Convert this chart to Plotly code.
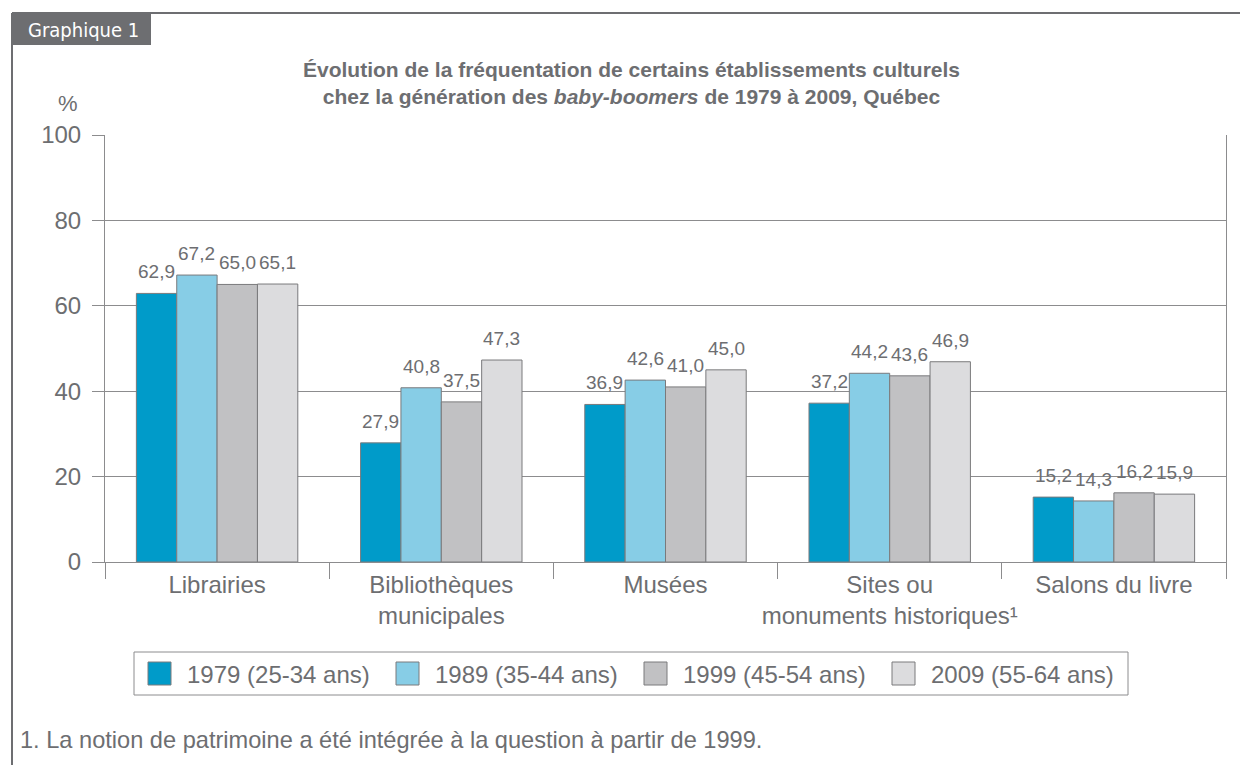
import plotly.graph_objects as go

categories = ["Librairies", "Bibliothèques<br>municipales", "Musées",
              "Sites ou<br>monuments historiques¹", "Salons du livre"]
series_names = ["1979 (25-34 ans)", "1989 (35-44 ans)", "1999 (45-54 ans)", "2009 (55-64 ans)"]
v1979 = [62.9, 27.9, 36.9, 37.2, 15.2]
v1989 = [67.2, 40.8, 42.6, 44.2, 14.3]
v1999 = [65.0, 37.5, 41.0, 43.6, 16.2]
v2009 = [65.1, 47.3, 45.0, 46.9, 15.9]
colors = ["#009bc9", "#87cde6", "#c1c1c3", "#dcdcde"]
y_ticks = [0, 20, 40, 60, 80, 100]

GREY = "#6d6e71"
LINE = "#8c8c8e"
FONT = "Liberation Sans, Arial, sans-serif"

# screen coordinates (page has an 8px body margin)
OFF = 8
SW, SH = 1248, 765
L, R, T, B = 105, 1226, 135, 562
W, H = SW - OFF, SH - OFF
BARGAP = 0.28
def px(x): return (x - L) / (R - L)
def py(y): return (B - y) / (B - T)

all_series = [v1979, v1989, v1999, v2009]
fig = go.Figure()
for name, vals, col in zip(series_names, all_series, colors):
    fig.add_trace(go.Bar(
        x=categories, y=vals, name=name,
        marker=dict(color=col, line=dict(color="#7a7a7c", width=1)),
    ))

# value labels above bars, placed at data values through the axes
cat_px = (R - L) / len(categories)
bar_px = cat_px * (1 - BARGAP) / len(all_series)
for i, vals in enumerate(all_series):
    shift = (i - (len(all_series) - 1) / 2) * bar_px
    for c, v in zip(categories, vals):
        fig.add_annotation(x=c, y=v, xref="x", yref="y", xshift=shift, yshift=9,
                           xanchor="center", yanchor="bottom", showarrow=False,
                           text=f"{v:.1f}".replace(".", ","),
                           font=dict(family=FONT, size=19, color=GREY))

fig.update_layout(
    width=W, height=H, barmode="group", bargap=BARGAP, bargroupgap=0,
    margin=dict(l=L - OFF, r=SW - R, t=T - OFF, b=SH - B),
    plot_bgcolor="white", paper_bgcolor="white",
    font=dict(family=FONT, color=GREY),
    showlegend=False,
)
fig.update_yaxes(range=[0, 100], tickvals=y_ticks, showgrid=True, gridcolor=LINE,
                 gridwidth=1, showline=True, linecolor=LINE, linewidth=1, mirror=True,
                 ticks="outside", ticklen=12, tickcolor=LINE, ticklabelstandoff=6,
                 tickfont=dict(family=FONT, size=24, color=GREY), zeroline=False)
fig.update_xaxes(showline=True, linecolor=LINE, linewidth=1, ticks="outside",
                 tickson="boundaries", ticklen=16, tickcolor=LINE, tickangle=0,
                 ticklabelstandoff=1,
                 tickfont=dict(family=FONT, size=24, color=GREY))

# frame and tab
fig.add_shape(type="line", xref="paper", yref="paper", x0=px(12), x1=px(12), y0=py(13), y1=py(770),
              line=dict(color="#6d6e71", width=2))
fig.add_shape(type="line", xref="paper", yref="paper", x0=px(12), x1=px(1250), y0=py(13), y1=py(13),
              line=dict(color="#6d6e71", width=2))
fig.add_shape(type="rect", xref="paper", yref="paper", x0=px(12), x1=px(151), y0=py(13), y1=py(45),
              fillcolor="#6d6e71", line=dict(width=0))
fig.add_annotation(xref="paper", yref="paper", x=px(26), y=py(30), xanchor="left", yanchor="middle",
                   text="Graphique 1", showarrow=False,
                   font=dict(family="DejaVu Sans Condensed", size=20, color="white"))
fig.add_annotation(xref="paper", yref="paper", x=px(631), y=py(83), xanchor="center", yanchor="middle",
                   text="<b>Évolution de la fréquentation de certains établissements culturels<br>"
                        "chez la génération des <i>baby-boomers</i> de 1979 à 2009, Québec</b>",
                   showarrow=False, font=dict(family=FONT, size=21, color=GREY))
fig.add_annotation(xref="paper", yref="paper", x=px(68), y=py(104), xanchor="center", yanchor="middle",
                   text="%", showarrow=False, font=dict(family=FONT, size=22, color=GREY))
fig.add_annotation(xref="paper", yref="paper", x=px(18), y=py(740), xanchor="left", yanchor="middle",
                   text="1. La notion de patrimoine a été intégrée à la question à partir de 1999.",
                   showarrow=False, font=dict(family=FONT, size=23.6, color=GREY))

# legend (drawn manually to match large square swatches)
fig.add_shape(type="rect", xref="paper", yref="paper", x0=px(134), x1=px(1128), y0=py(652), y1=py(695),
              fillcolor="white", line=dict(color=LINE, width=1))
for i, (name, col) in enumerate(zip(series_names, colors)):
    x0 = 148 + i * 248
    fig.add_shape(type="rect", xref="paper", yref="paper", x0=px(x0), x1=px(x0 + 23),
                  y0=py(662), y1=py(685), fillcolor=col, line=dict(color="#7a7a7c", width=1))
    fig.add_annotation(xref="paper", yref="paper", x=px(x0 + 37), y=py(674), xanchor="left",
                       yanchor="middle", text=name, showarrow=False,
                       font=dict(family=FONT, size=24, color=GREY))

fig.write_html("out.html")
